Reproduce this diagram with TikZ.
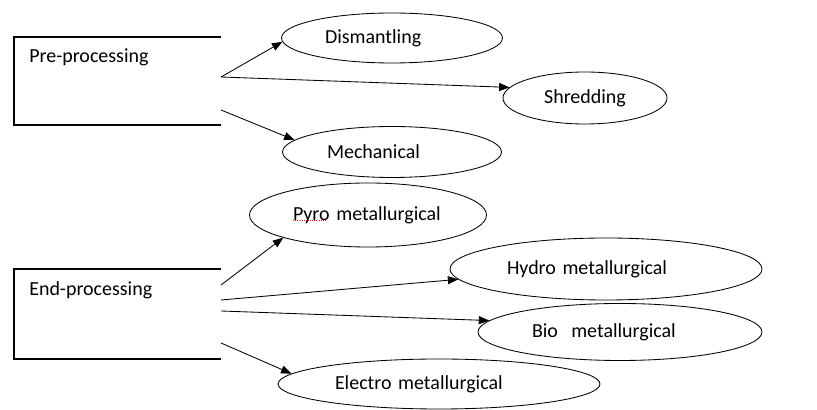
\documentclass[tikz,border=0pt]{standalone}
\usepackage{fontspec}
\setmainfont{Carlito}
\usetikzlibrary{shapes.geometric, arrows.meta}

\tikzset{
  stage/.style={anchor=west, inner sep=0pt},
  proc/.style={ellipse, draw, line width=0.6pt, inner sep=0pt, align=left},
  feed/.style={line width=0.6pt, -{Triangle[length=2.6mm, width=2mm]}},
}

\begin{document}
\begin{tikzpicture}[font=\fontsize{14.2}{17}\selectfont]
  \useasboundingbox (0,0) rectangle (20.425,10.25);

  % open boxes
  \draw[line width=0.8pt] (5.525,9.325) -- (0.35,9.325) -- (0.35,7.125) -- (5.525,7.125);
  \draw[line width=0.8pt] (5.525,3.525) -- (0.35,3.525) -- (0.35,1.275) -- (5.525,1.275);

  \node (preproc) at (0.725,8.825) [stage] {Pre-processing};
  \node (endproc) at (0.725,3.0) [stage] {End-processing};

  \coordinate (pre a) at (5.525,8.325);
  \coordinate (pre b) at (5.525,7.5);
  \coordinate (end a) at (5.525,3.125);
  \coordinate (end b) at (5.525,2.75);
  \coordinate (end c) at (5.525,2.475);
  \coordinate (end d) at (5.525,1.675);

  % pre-processing routes
  \node (dis) at (9.8,9.3) [proc, minimum width=5.525cm, minimum height=1.25cm, text width=3.35cm] {Dismantling};
  \node (shr) at (14.625,7.8) [proc, minimum width=4.1cm, minimum height=1.3cm] {Shredding};
  \node (mech) at (9.8,6.45) [proc, minimum width=5.475cm, minimum height=1.275cm, text width=3.25cm] {Mechanical};

  % end-processing routes
  \node (pyro) at (9.2,4.875) [proc, minimum width=5.925cm, minimum height=1.6cm, text width=3.75cm] {Pyro metallurgical};
  \node (hydro) at (15.15,3.525) [proc, minimum width=7.8cm, minimum height=1.55cm, text width=4.95cm] {Hydro metallurgical};
  \node (bio) at (15.5,1.95) [proc, minimum width=7.1cm, minimum height=1.425cm, text width=4.4cm] {Bio\ \ metallurgical};
  \node (elec) at (10.975,0.65) [proc, minimum width=8.05cm, minimum height=1.25cm, text width=5.2cm] {Electro metallurgical};

  \draw[red, densely dotted, line width=0.5pt] (7.33,4.74) -- (8.17,4.74);

  \draw[feed] (pre a) -- (dis.182);
  \draw[feed] (pre a) -- (shr.172);
  \draw[feed] (pre b) -- (mech.173);

  \draw[feed] (end a) -- (pyro.195);
  \draw[feed] (end b) -- (hydro.184);
  \draw[feed] (end c) -- (bio.175);
  \draw[feed] (end d) -- (elec.176);
\end{tikzpicture}
\end{document}
